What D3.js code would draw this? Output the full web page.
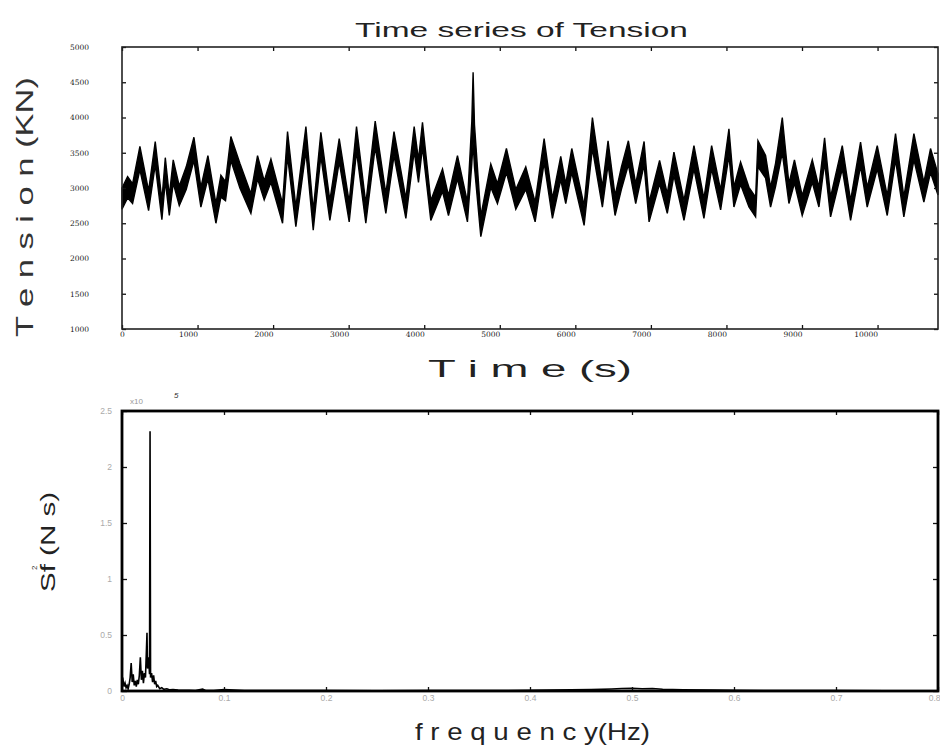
<!DOCTYPE html>
<html>
<head>
<meta charset="utf-8">
<script src="https://cdn.jsdelivr.net/npm/d3@7"></script>
<style>
  body { margin: 0; background: #fff; }
  svg { display: block; font-family: "Liberation Sans", Arial, sans-serif; }
</style>
</head>
<body>
<script>
// time series: slow-drift extremes, with top and bottom of the black band
const tensionTime  = [0, 74, 140, 237, 352, 440, 528, 573, 626, 678, 758, 850, 952, 1044, 1137, 1243, 1309, 1370, 1441, 1560, 1706, 1794, 1882, 1971, 2125, 2191, 2301, 2434, 2531, 2632, 2751, 2875, 3007, 3104, 3227, 3351, 3492, 3600, 3757, 3867, 3924, 3977, 4087, 4242, 4321, 4440, 4572, 4630, 4647, 4665, 4749, 4881, 4969, 5088, 5212, 5344, 5468, 5587, 5697, 5807, 5873, 5953, 6116, 6226, 6358, 6433, 6526, 6610, 6702, 6799, 6910, 6976, 7115, 7217, 7305, 7438, 7570, 7702, 7804, 7923, 8033, 8099, 8187, 8298, 8386, 8417, 8518, 8584, 8650, 8739, 8827, 8900, 9003, 9136, 9224, 9299, 9378, 9533, 9643, 9775, 9863, 9996, 10128, 10238, 10348, 10481, 10613, 10701, 10800];
const tensionUpper = [3000, 3160, 3060, 3590, 2960, 3660, 2830, 3430, 2890, 3400, 3030, 3300, 3720, 3010, 3460, 2780, 3180, 3090, 3730, 3350, 2920, 3460, 3100, 3410, 2780, 3800, 2730, 3870, 2680, 3790, 2820, 3700, 2800, 3870, 2780, 3950, 2920, 3800, 2850, 3870, 3400, 3930, 2820, 3270, 2890, 3460, 2800, 3950, 4640, 3900, 2600, 3340, 3060, 3560, 2980, 3300, 2800, 3700, 2850, 3450, 3060, 3560, 2750, 4000, 3010, 3670, 2890, 3300, 3670, 3060, 3660, 2800, 3390, 2920, 3510, 2820, 3600, 2850, 3600, 2970, 3840, 3010, 3370, 3010, 2870, 3670, 3460, 3010, 3350, 4000, 3060, 3400, 2890, 3400, 3010, 3710, 2870, 3600, 2820, 3650, 3010, 3600, 2890, 3770, 2870, 3770, 3080, 3560, 3200];
const tensionLower = [2700, 2860, 2780, 3260, 2680, 3330, 2550, 3100, 2610, 3070, 2750, 2980, 3390, 2730, 3130, 2500, 2870, 2820, 3390, 3000, 2640, 3130, 2830, 3080, 2500, 3450, 2450, 3520, 2400, 3450, 2540, 3370, 2520, 3520, 2500, 3580, 2640, 3460, 2570, 3520, 3080, 3580, 2540, 2950, 2610, 3130, 2520, 3350, 3650, 3300, 2310, 3010, 2780, 3220, 2700, 2980, 2520, 3360, 2570, 3120, 2780, 3220, 2470, 3560, 2730, 3330, 2610, 2980, 3330, 2780, 3330, 2520, 3060, 2640, 3180, 2540, 3270, 2570, 3270, 2690, 3460, 2730, 3050, 2730, 2590, 3300, 3140, 2730, 3020, 3500, 2780, 3070, 2610, 3080, 2730, 3360, 2590, 3270, 2540, 3310, 2730, 3270, 2610, 3400, 2590, 3400, 2800, 3220, 2900];

const timeTicks = [0, 1000, 2000, 3000, 4000, 5000, 6000, 7000, 8000, 9000, 10000];
const tensionTicks = [1000, 1500, 2000, 2500, 3000, 3500, 4000, 4500, 5000];

// spectrum, values in units of 10^5
const freq = [0, 0.001, 0.002, 0.003, 0.004, 0.005, 0.006, 0.007, 0.008, 0.009, 0.010, 0.011, 0.012, 0.013, 0.014, 0.015, 0.016, 0.017, 0.018, 0.019, 0.020, 0.021, 0.022, 0.023, 0.024, 0.0245, 0.025, 0.026, 0.027, 0.0275, 0.028, 0.029, 0.030, 0.031, 0.032, 0.033, 0.034, 0.035, 0.037, 0.039, 0.041, 0.044, 0.047, 0.050, 0.055, 0.060, 0.066, 0.072, 0.079, 0.082, 0.090, 0.10, 0.12, 0.15, 0.20, 0.25, 0.30, 0.35, 0.40, 0.42, 0.44, 0.46, 0.48, 0.49, 0.50, 0.51, 0.52, 0.53, 0.55, 0.58, 0.60, 0.65, 0.70, 0.75, 0.80];
const spectrum = [0.08, 0.10, 0.04, 0.07, 0.03, 0.05, 0.02, 0.06, 0.12, 0.25, 0.08, 0.15, 0.05, 0.09, 0.04, 0.10, 0.06, 0.14, 0.30, 0.10, 0.18, 0.07, 0.16, 0.12, 0.38, 0.52, 0.20, 0.30, 0.15, 2.32, 0.12, 0.16, 0.08, 0.14, 0.06, 0.09, 0.04, 0.05, 0.02, 0.03, 0.015, 0.02, 0.01, 0.012, 0.008, 0.006, 0.007, 0.005, 0.018, 0.005, 0.004, 0.012, 0.004, 0.003, 0.003, 0.002, 0.003, 0.003, 0.006, 0.008, 0.01, 0.012, 0.018, 0.022, 0.025, 0.02, 0.022, 0.015, 0.01, 0.008, 0.006, 0.004, 0.003, 0.002, 0.002];

const freqTicks = [0, 0.1, 0.2, 0.3, 0.4, 0.5, 0.6, 0.7, 0.8];
const spectrumTicks = [0, 0.5, 1, 1.5, 2, 2.5];

const svg = d3.select("body").append("svg")
    .attr("width", 940)
    .attr("height", 755);

svg.append("rect").attr("width", 940).attr("height", 755).attr("fill", "#fff");

//--------------------------------
// TOP: time series
//--------------------------------
let x1 = d3.scaleLinear().domain([0, 10800]).range([122, 938]),
    y1 = d3.scaleLinear().domain([1000, 5000]).range([329, 47]);

let band = tensionTime.map((t, i) => ({t: t, hi: tensionUpper[i], lo: tensionLower[i]}));

let area = d3.area()
    .x(d => x1(d.t))
    .y0(d => y1(d.lo))
    .y1(d => y1(d.hi));

svg.append("path")
    .datum(band)
    .attr("d", area)
    .attr("fill", "#000")
    .attr("stroke", "#000")
    .attr("stroke-width", 1.4);

// ticks on all four sides, pointing inward
svg.append("g")
    .attr("transform", "translate(0,329)")
    .call(d3.axisBottom(x1).tickValues(timeTicks).tickSize(-4).tickSizeOuter(0).tickFormat(d3.format("d")))
    .call(g => g.select(".domain").remove())
    .call(g => g.selectAll("text")
        .attr("y", 3)
        .attr("text-anchor", d => d === 0 ? "middle" : "end")
        .attr("font-size", 7.5)
        .attr("font-family", "DejaVu Serif")
        .attr("fill", "#222"));

svg.append("g")
    .attr("transform", "translate(0,47)")
    .call(d3.axisTop(x1).tickValues(timeTicks).tickSize(-4).tickSizeOuter(0).tickFormat(""))
    .call(g => g.select(".domain").remove());

svg.append("g")
    .attr("transform", "translate(122,0)")
    .call(d3.axisLeft(y1).tickValues(tensionTicks).tickSize(-4).tickSizeOuter(0).tickFormat(d3.format("d")))
    .call(g => g.select(".domain").remove())
    .call(g => g.selectAll("text")
        .attr("x", -33)
        .attr("font-size", 7.5)
        .attr("font-family", "DejaVu Serif")
        .attr("fill", "#222"));

svg.append("g")
    .attr("transform", "translate(938,0)")
    .call(d3.axisRight(y1).tickValues(tensionTicks).tickSize(-4).tickSizeOuter(0).tickFormat(""))
    .call(g => g.select(".domain").remove());

svg.append("rect")
    .attr("x", 122).attr("y", 47)
    .attr("width", 816).attr("height", 282)
    .attr("fill", "none")
    .attr("stroke", "#222")
    .attr("stroke-width", 1.6);

svg.append("text")
    .attr("x", 355).attr("y", 37)
    .attr("textLength", 333).attr("lengthAdjust", "spacingAndGlyphs")
    .attr("font-size", 21)
    .attr("fill", "#222")
    .text("Time series of Tension");

svg.append("text")
    .attr("x", 428).attr("y", 377)
    .attr("textLength", 204).attr("lengthAdjust", "spacingAndGlyphs")
    .attr("font-size", 24)
    .attr("fill", "#222")
    .text("T i m e  (s)");

svg.append("text")
    .attr("transform", "translate(33,337) rotate(-90)")
    .attr("textLength", 260).attr("lengthAdjust", "spacingAndGlyphs")
    .attr("font-size", 24)
    .attr("fill", "#333")
    .text("T e n s i o n   (KN)");

//--------------------------------
// BOTTOM: spectrum
//--------------------------------
let x2 = d3.scaleLinear().domain([0, 0.8]).range([122, 938]),
    y2 = d3.scaleLinear().domain([0, 2.5]).range([691, 411]);

let spec = freq.map((f, i) => ({f: f, s: spectrum[i]}));

let line = d3.line()
    .x(d => x2(d.f))
    .y(d => y2(d.s));

svg.append("path")
    .datum(spec)
    .attr("d", line)
    .attr("fill", "none")
    .attr("stroke", "#000")
    .attr("stroke-width", 1.6);

svg.append("g")
    .attr("transform", "translate(0,691)")
    .call(d3.axisBottom(x2).tickValues(freqTicks).tickSize(-4).tickSizeOuter(0).tickFormat(d3.format("")))
    .call(g => g.select(".domain").remove())
    .call(g => g.selectAll("text")
        .attr("y", 4)
        .attr("text-anchor", d => d === 0.8 ? "end" : "middle")
        .attr("x", d => d === 0.8 ? 2 : 0)
        .attr("font-size", 8.5)
        .attr("fill", "#aaa"));

svg.append("g")
    .attr("transform", "translate(0,411)")
    .call(d3.axisTop(x2).tickValues(freqTicks).tickSize(-4).tickSizeOuter(0).tickFormat(""))
    .call(g => g.select(".domain").remove());

svg.append("g")
    .attr("transform", "translate(122,0)")
    .call(d3.axisLeft(y2).tickValues(spectrumTicks).tickSize(-5).tickSizeOuter(0).tickFormat(d3.format("")))
    .call(g => g.select(".domain").remove())
    .call(g => g.selectAll("text")
        .attr("x", -10)
        .attr("font-size", 8.5)
        .attr("fill", "#aaa"));

svg.append("g")
    .attr("transform", "translate(938,0)")
    .call(d3.axisRight(y2).tickValues(spectrumTicks).tickSize(-5).tickSizeOuter(0).tickFormat(""))
    .call(g => g.select(".domain").remove());

svg.selectAll(".tick line").attr("stroke", "#111").attr("stroke-width", 1.3);

svg.append("rect")
    .attr("x", 122).attr("y", 411)
    .attr("width", 816).attr("height", 280)
    .attr("fill", "none")
    .attr("stroke", "#000")
    .attr("stroke-width", 2.8);

svg.append("text")
    .attr("x", 130).attr("y", 404)
    .attr("font-size", 8)
    .attr("fill", "#999")
    .text("x10");
svg.append("text")
    .attr("x", 174).attr("y", 398)
    .attr("font-size", 8)
    .attr("font-style", "italic")
    .attr("fill", "#333")
    .text("5");

svg.append("text")
    .attr("x", 415).attr("y", 740)
    .attr("textLength", 235).attr("lengthAdjust", "spacingAndGlyphs")
    .attr("font-size", 24)
    .attr("fill", "#222")
    .text("f r e q u e n c y(Hz)");

svg.append("text")
    .attr("transform", "translate(55,592) rotate(-90)")
    .attr("textLength", 100).attr("lengthAdjust", "spacingAndGlyphs")
    .attr("font-size", 21)
    .attr("fill", "#222")
    .text("Sf  (N s)");
svg.append("text")
    .attr("transform", "translate(37,570) rotate(-90)")
    .attr("font-size", 8)
    .attr("fill", "#333")
    .text("2");
</script>
</body>
</html>
